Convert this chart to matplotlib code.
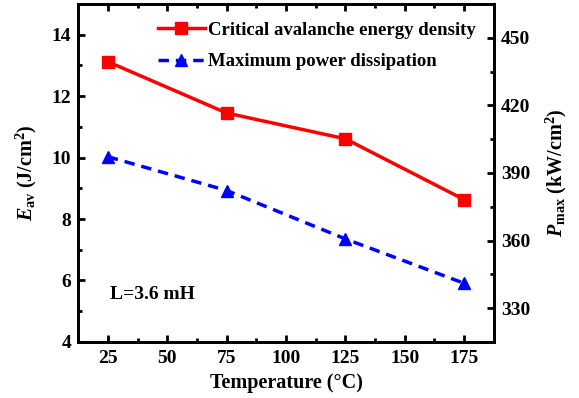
import matplotlib
matplotlib.use("Agg")
import matplotlib.pyplot as plt
from matplotlib.ticker import MultipleLocator

temperature = [25, 75, 125, 175]
energy_density = [13.12, 11.45, 10.61, 8.63]
power_max = [397.2, 382.2, 360.7, 341.0]
series_labels = ["Critical avalanche energy density", "Maximum power dissipation"]

plt.rcParams['font.family'] = ['Liberation Serif', 'DejaVu Serif']
plt.rcParams['font.weight'] = 'bold'
plt.rcParams['mathtext.fontset'] = 'custom'
plt.rcParams['mathtext.rm'] = 'Liberation Serif:bold'
plt.rcParams['mathtext.it'] = 'Liberation Serif:bold:italic'
plt.rcParams['mathtext.bf'] = 'Liberation Serif:bold'

fig = plt.figure(figsize=(5.79, 3.98), dpi=100)
ax = fig.add_axes([0.135, 0.141, 0.718, 0.849])
ax2 = ax.twinx()

l1, = ax.plot(temperature, energy_density, color='#ff0000', lw=2.5, marker='s',
              ms=8, label=series_labels[0])
l2, = ax2.plot(temperature, power_max, color='#0000ff', lw=2.5, ls=(0, (3, 2)),
               marker='^', ms=9, label=series_labels[1])

ax.set_xlim(12.5, 187.5)
ax.set_ylim(4, 15)
ax2.set_ylim(315, 465)

ax.xaxis.set_major_locator(MultipleLocator(25))
ax.xaxis.set_minor_locator(MultipleLocator(12.5))
ax.yaxis.set_major_locator(MultipleLocator(2))
ax.yaxis.set_minor_locator(MultipleLocator(1))
ax2.yaxis.set_major_locator(MultipleLocator(30))
ax2.yaxis.set_minor_locator(MultipleLocator(15))

for a in (ax, ax2):
    a.tick_params(which='major', direction='in', length=5, width=2, labelsize=14)
    a.tick_params(which='minor', direction='in', length=3, width=2)
    for s in a.spines.values():
        s.set_linewidth(2)
ax.tick_params(axis='x', which='both', top=True, labeltop=False)
ax.tick_params(axis='x', pad=6)
ax.tick_params(axis='y', pad=5)
ax2.tick_params(axis='y', pad=5)

ax.set_xlabel('Temperature (°C)', fontsize=14.5, fontweight='bold', labelpad=4)
ax.set_ylabel(r'$E_{\mathrm{av}}$ (J/cm$^2$)', fontsize=14.5, fontweight='bold', labelpad=9)
ax2.set_ylabel(r'$P_{\mathrm{max}}$ (kW/cm$^2$)', fontsize=14.5, fontweight='bold', labelpad=10)

ax.text(0.077, 0.14, 'L=3.6 mH', transform=ax.transAxes, fontsize=14,
        fontweight='bold', va='center')

ax.legend([l1, l2], series_labels, loc='upper right', frameon=False, fontsize=13.5,
          handlelength=2.5, handletextpad=0.2, borderaxespad=0.55, labelspacing=0.75,
          bbox_to_anchor=(1.0, 1.0))

fig.savefig('out.png', dpi=100)
